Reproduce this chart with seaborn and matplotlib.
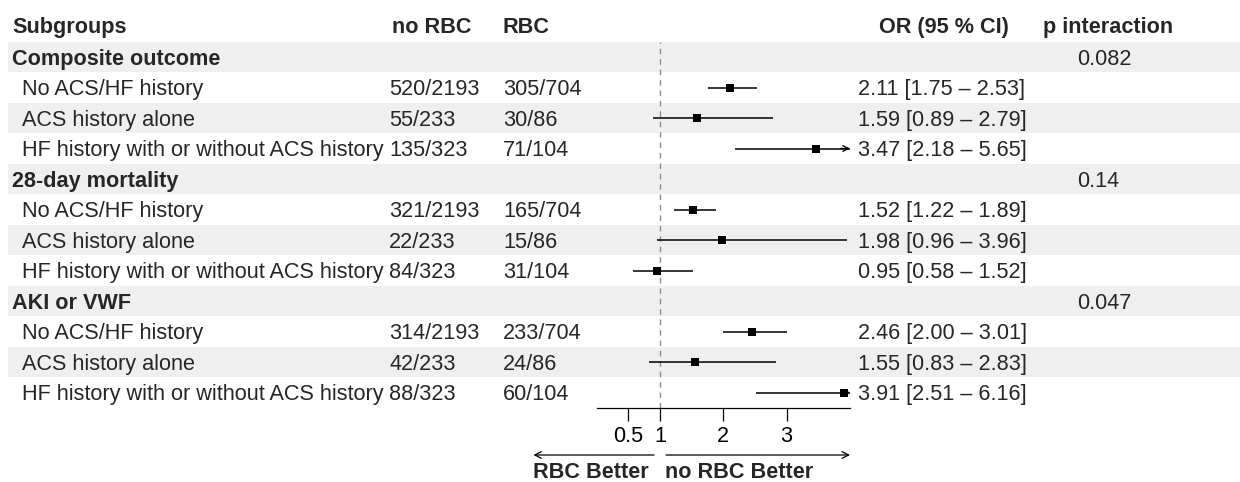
import matplotlib
matplotlib.use('Agg')
from matplotlib import pyplot as plt
from matplotlib.transforms import blended_transform_factory

import seaborn as sns
import numpy as np
import pandas as pd

outcomes = ["Composite outcome", "28-day mortality", "AKI or VWF"]
subgroups = ["No ACS/HF history", "ACS history alone", "HF history with or without ACS history"]
p_interaction = ["0.082", "0.14", "0.047"]

no_rbc = ["520/2193", "55/233", "135/323",
          "321/2193", "22/233", "84/323",
          "314/2193", "42/233", "88/323"]
rbc = ["305/704", "30/86", "71/104",
       "165/704", "15/86", "31/104",
       "233/704", "24/86", "60/104"]
odds_ratio = [2.11, 1.59, 3.47, 1.52, 1.98, 0.95, 2.46, 1.55, 3.91]
ci_low = [1.75, 0.89, 2.18, 1.22, 0.96, 0.58, 2.00, 0.83, 2.51]
ci_high = [2.53, 2.79, 5.65, 1.89, 3.96, 1.52, 3.01, 2.83, 6.16]

x_ticks = [0.5, 1, 2, 3]
x_max = 4

W, H = 1240, 482
FS = 15.6

sns.set_theme(style="white")
plt.rcParams['font.family'] = ['Liberation Sans', 'DejaVu Sans']

# build the table rows: one header row per outcome, then its subgroups
rows = []
k = 0
for i, outcome in enumerate(outcomes):
    rows.append(dict(label=outcome, bold=True, p=p_interaction[i]))
    for sub in subgroups:
        rows.append(dict(label=sub, bold=False, no_rbc=no_rbc[k], rbc=rbc[k],
                         est=odds_ratio[k], lo=ci_low[k], hi=ci_high[k]))
        k += 1
n_rows = len(rows)

row_h = 30.5
top_px = 41.75
bottom = 1 - (top_px + n_rows * row_h) / H
height = n_rows * row_h / H

fig = plt.figure(figsize=(W / 100, H / 100), dpi=100)

# background / table axes in pixel x units
ax_bg = fig.add_axes([0, bottom, 1, height])
ax_bg.set_xlim(0, W)
ax_bg.set_ylim(n_rows - 0.5, -0.5)
ax_bg.axis('off')
for r in range(0, n_rows, 2):
    ax_bg.axhspan(r - 0.5, r + 0.5, xmin=8 / W, xmax=1, color='#EFEFEF', lw=0)

hdr_y = -0.79
ax_bg.text(12, hdr_y, "Subgroups", fontsize=FS, weight='bold', va='baseline')
ax_bg.text(432, hdr_y, "no RBC", fontsize=FS, weight='bold', va='baseline', ha='center')
ax_bg.text(503, hdr_y, "RBC", fontsize=FS, weight='bold', va='baseline')
ax_bg.text(944, hdr_y, "OR (95 % CI)", fontsize=FS, weight='bold', va='baseline', ha='center')
ax_bg.text(1108, hdr_y, "p interaction", fontsize=FS, weight='bold', va='baseline', ha='center')

off = 0.25
for r, row in enumerate(rows):
    y = r + off
    if row['bold']:
        ax_bg.text(12, y, row['label'], fontsize=FS, weight='bold', va='baseline')
        ax_bg.text(1077, y, row['p'], fontsize=FS, va='baseline')
    else:
        ax_bg.text(22, y, row['label'], fontsize=FS, va='baseline')
        ax_bg.text(389, y, row['no_rbc'], fontsize=FS, va='baseline')
        ax_bg.text(503, y, row['rbc'], fontsize=FS, va='baseline')
        ax_bg.text(858, y, f"{row['est']:.2f} [{row['lo']:.2f} \u2013 {row['hi']:.2f}]",
                   fontsize=FS, va='baseline')

# forest axes
x0_px, x1_px = 596.7, 850.0
ax = fig.add_axes([x0_px / W, bottom, (x1_px - x0_px) / W, height])
ax.set_facecolor('none')
ax.set_xlim(0, x_max)
ax.set_ylim(n_rows - 0.5, -0.5)

df = pd.DataFrame([dict(row=r, est=row['est'], lo=row['lo'], hi=row['hi'])
                   for r, row in enumerate(rows) if not row['bold']])

ax.axvline(1, color='#8C8C8C', ls=(0, (4, 3.5)), lw=1, zorder=1)
ax.hlines(df['row'], df['lo'].clip(0, x_max), df['hi'].clip(0, x_max),
          color='black', lw=1.1, zorder=2)
for _, d in df[df['hi'] > x_max].iterrows():
    ax.annotate('', xy=(x_max, d['row']), xytext=(x_max - 0.15, d['row']),
                arrowprops=dict(arrowstyle='->', lw=1.0, color='black',
                                mutation_scale=10, shrinkA=0, shrinkB=0),
                annotation_clip=False)
sns.scatterplot(data=df, x='est', y='row', marker='s', s=30, color='black',
                linewidth=0, ax=ax, zorder=3, legend=False)

for side in ['left', 'top', 'right']:
    ax.spines[side].set_visible(False)
ax.spines['bottom'].set_color('black')
ax.spines['bottom'].set_linewidth(0.9)
ax.set_xticks(x_ticks)
ax.set_xticklabels([f"{t:g}" for t in x_ticks])
ax.set_yticks([])
ax.set_xlabel('')
ax.set_ylabel('')
ax.tick_params(axis='x', bottom=True, direction='out', length=9.4, width=0.9,
               pad=3.5, labelsize=FS, colors='black')

# direction arrows under the axis
trans = blended_transform_factory(ax.transData, fig.transFigure)
y_arr = 1 - 455 / H
ax.annotate('', xy=(-1.0, y_arr), xytext=(0.905, y_arr), xycoords=trans, textcoords=trans,
            arrowprops=dict(arrowstyle='->', lw=0.9, color='black', shrinkA=0, shrinkB=0),
            annotation_clip=False)
ax.annotate('', xy=(4.0, y_arr), xytext=(1.095, y_arr), xycoords=trans, textcoords=trans,
            arrowprops=dict(arrowstyle='->', lw=0.9, color='black', shrinkA=0, shrinkB=0),
            annotation_clip=False)
y_lab = 1 - 477.5 / H
ax.text(0.82, y_lab, "RBC Better", transform=trans, ha='right', va='baseline',
        fontsize=FS, weight='bold')
ax.text(1.08, y_lab, "no RBC Better", transform=trans, ha='left', va='baseline',
        fontsize=FS, weight='bold')

fig.savefig('out.png', dpi=100)
